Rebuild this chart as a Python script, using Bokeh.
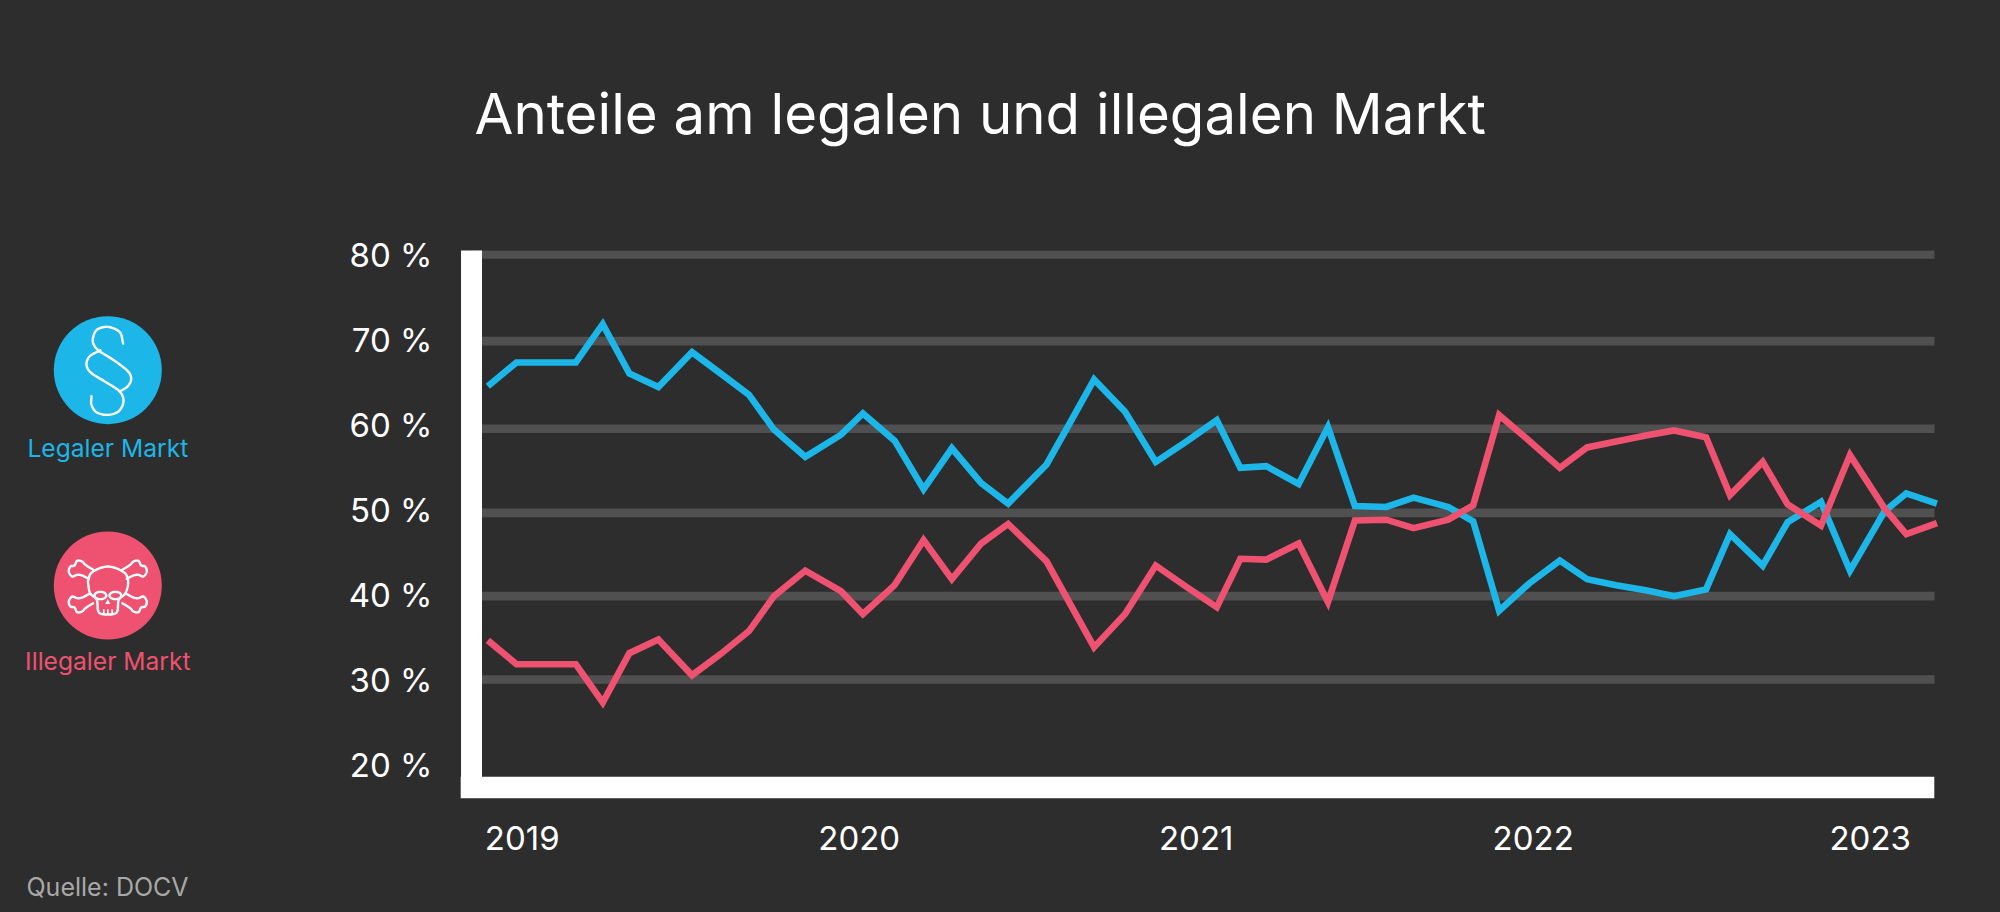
import numpy as np
from bokeh.core.properties import value
from bokeh.embed import file_html
from bokeh.layouts import row
from bokeh.models import FixedTicker, Range1d, Title
from bokeh.plotting import figure
from bokeh.resources import INLINE

TITLE = "Anteile am legalen und illegalen Markt"
SOURCE = "Quelle: DOCV"
LEGAL = "Legaler Markt"
ILLEGAL = "Illegaler Markt"

# Time in decimal years
t_offsets = [-0.002, 0.083, 0.171, 0.259, 0.339, 0.418, 0.504, 0.604, 0.689, 0.773,
             0.847, 0.940, 1.046, 1.111, 1.205, 1.291, 1.375, 1.462, 1.542, 1.656,
             1.727, 1.797, 1.889, 1.980, 2.071, 2.161, 2.231, 2.308, 2.404, 2.491,
             2.571, 2.664, 2.745, 2.848, 2.922, 2.999, 3.088, 3.179, 3.260, 3.346,
             3.434, 3.518, 3.613, 3.684, 3.781, 3.855, 3.954, 4.040, 4.143, 4.207, 4.298]
legal = [64.5, 67.3, 67.3, 67.3, 71.8, 66.0, 64.4, 68.5, 66.0, 63.5,
         59.4, 56.2, 58.8, 61.3, 58.1, 52.4, 57.2, 53.1, 50.7, 55.3,
         60.3, 65.3, 61.5, 55.6, 58.0, 60.5, 54.9, 55.1, 53.0, 59.7,
         50.4, 50.3, 51.4, 50.3, 48.6, 38.1, 41.3, 44.0, 41.8, 41.1,
         40.5, 39.8, 40.6, 47.1, 43.4, 48.5, 50.9, 42.8, 49.8, 51.9, 50.7]
illegal = [34.6, 31.8, 31.8, 31.8, 27.3, 33.1, 34.7, 30.5, 33.0, 35.7,
           39.8, 42.8, 40.4, 37.7, 41.1, 46.4, 41.8, 46.0, 48.3, 43.9,
           38.8, 33.8, 37.7, 43.4, 40.9, 38.5, 44.2, 44.1, 46.0, 39.1,
           48.7, 48.8, 47.8, 48.8, 50.5, 61.1, 58.1, 54.9, 57.3, 58.0,
           58.7, 59.3, 58.5, 51.7, 55.6, 50.6, 48.1, 56.4, 50.1, 47.1, 48.4]
years = [2019, 2020, 2021, 2022, 2023]
percent_ticks = [80, 70, 60, 50, 40, 30, 20]
band_levels = [80, 69.8, 59.5, 49.6, 39.8, 30]

BG = "#2d2d2d"
BLUE = "#1cb6e8"
PINK = "#ee5270"
BAND = "#505050"
FONT = "Inter"

times = [2019 + d for d in t_offsets]

YEAR_PX = 337.0
PCT_PX = 8.5
def tx(px):
    return 2019 + (px - 488) / YEAR_PX
def vy(py):
    return 80 - (py - 254) / PCT_PX

LEFT_W = 260
FIG_H = 912
MAIN_W = 1740
frame_l, frame_r, frame_t, frame_b = 471, 1946, 250, 787

main = figure(width=MAIN_W, height=FIG_H, output_backend="svg", toolbar_location=None,
              x_range=Range1d(tx(frame_l), tx(frame_r)),
              y_range=Range1d(vy(frame_b), vy(frame_t)),
              min_border_left=frame_l - LEFT_W, min_border_right=LEFT_W + MAIN_W - frame_r,
              min_border_top=frame_t, min_border_bottom=FIG_H - frame_b,
              background_fill_color=BG, border_fill_color=BG, outline_line_color=None)

# An empty spacer title keeps the real title clear of the frame
main.add_layout(Title(text=" ", text_font_size="1px", standoff=100), "above")
main.add_layout(Title(text=TITLE, text_color="#ffffff", text_font=FONT, text_font_size="56.4px",
                      text_font_style="normal", align="left", offset=3, standoff=0), "above")

main.grid.visible = False
main.segment(x0=[tx(frame_l)] * len(band_levels), x1=[tx(1934)] * len(band_levels),
             y0=band_levels, y1=band_levels, line_color=BAND, line_width=8.7)

main.line(times, legal, line_color=BLUE, line_width=6.6, line_join="miter")
main.line(times, illegal, line_color=PINK, line_width=6.6, line_join="miter")

ya = main.yaxis[0]
ya.ticker = FixedTicker(ticks=percent_ticks)
ya.major_label_overrides = {v: f"{v} %" for v in percent_ticks}
ya.axis_line_color = "#ffffff"
ya.axis_line_width = 21
ya.major_tick_line_color = None
ya.minor_tick_line_color = None
ya.major_label_standoff = 33
ya.major_label_text_color = "#ffffff"
ya.major_label_text_font = FONT
ya.major_label_text_font_size = "33px"

xa = main.xaxis[0]
year_ticks = [y + 0.1 for y in years]
xa.ticker = FixedTicker(ticks=year_ticks)
xa.major_label_overrides = {t: str(y) for t, y in zip(year_ticks, years)}
xa.bounds = (tx(frame_l), tx(1934 - 10.8))
xa.axis_line_color = "#ffffff"
xa.axis_line_width = 21.6
xa.axis_line_cap = "square"
xa.major_tick_line_color = None
xa.minor_tick_line_color = None
xa.major_label_standoff = 32
xa.major_label_text_color = "#ffffff"
xa.major_label_text_font = FONT
xa.major_label_text_font_size = "33px"

# Left panel: the row lines its frame up with the main frame, so y is in page pixels
side = figure(width=LEFT_W, height=FIG_H, output_backend="svg", toolbar_location=None,
              x_range=Range1d(0, LEFT_W), y_range=Range1d(frame_b, frame_t),
              min_border=0, background_fill_color=BG, border_fill_color=BG, outline_line_color=None)
side.axis.visible = False
side.grid.visible = False

def smooth(pts, n=10):
    """Catmull-Rom curve through way points."""
    p = np.array(pts, float)
    p = np.vstack([2 * p[0] - p[1], p, 2 * p[-1] - p[-2]])
    out = []
    for i in range(1, len(p) - 2):
        for s in np.linspace(0, 1, n, endpoint=False):
            out.append(0.5 * ((2 * p[i]) + (p[i + 1] - p[i - 1]) * s
                              + (2 * p[i - 1] - 5 * p[i] + 4 * p[i + 1] - p[i + 2]) * s ** 2
                              + (3 * p[i] - p[i - 1] - 3 * p[i + 1] + p[i + 2]) * s ** 3))
    out.append(p[-2])
    return np.array(out)

CX, R = 107.3, 54
C1, C2 = 369.7, 585

def draw_icon(pts, cy, closed=False, width=2.4):
    # way points are in a 348-unit icon box centred on (172, 172)
    if closed:
        pts = list(pts) + [pts[0]]
    c = smooth(pts)
    side.line(CX + (c[:, 0] - 172) / 3, cy + (c[:, 1] - 172) / 3,
              line_color="#ffffff", line_width=width, line_cap="round", line_join="round")

side.circle([CX], [C1], radius=R, fill_color=BLUE, line_color=None)
side.circle([CX], [C2], radius=R, fill_color=PINK, line_color=None)

draw_icon([(218, 92), (208, 58), (172, 42), (138, 52), (127, 85), (143, 112), (190, 142),
           (232, 175), (242, 198), (232, 220), (208, 236)], C1)
draw_icon([(150, 112), (118, 130), (108, 155), (122, 180), (170, 210), (208, 236), (219, 265),
           (205, 295), (172, 306), (138, 298), (123, 275), (123, 250)], C1)

# skull
draw_icon([(112, 160), (125, 132), (172, 115), (220, 132), (233, 160), (225, 195), (205, 215),
           (201, 248), (188, 258), (156, 258), (143, 248), (139, 215), (119, 195)], C2, closed=True)
theta = np.linspace(0, 2 * np.pi, 9)[:-1]
for ex in (150, 195):
    draw_icon([(ex + 18 * np.cos(a), 202 + 11 * np.sin(a)) for a in theta], C2, closed=True)
for tooth in (160, 172, 185):
    side.line([CX + (tooth - 172) / 3] * 2, [C2 + (243 - 172) / 3, C2 + (258 - 172) / 3],
              line_color="#ffffff", line_width=1.6)
side.patch([CX, CX - 2.5, CX + 2.5], [C2 + 13.5, C2 + 18.5, C2 + 18.5], fill_color="#ffffff", line_color=None)
# bones
bone = [(128, 125), (105, 110), (95, 100), (80, 98), (72, 112), (60, 115), (55, 130),
        (65, 145), (80, 140), (95, 142), (115, 152)]
draw_icon(bone, C2)
draw_icon([(344 - a, b) for a, b in bone], C2)
draw_icon([(a, 350 - b) for a, b in bone], C2)
draw_icon([(344 - a, 350 - b) for a, b in bone], C2)

side.text([CX], [447], text=[LEGAL], text_color=BLUE, text_font=value(FONT), text_font_size="24.6px",
          text_align="center", text_baseline="middle")
side.text([CX], [660], text=[ILLEGAL], text_color=PINK, text_font=value(FONT), text_font_size="24.6px",
          text_align="center", text_baseline="middle")
side.add_layout(Title(text=" ", text_font_size="1px", standoff=79), "below")
side.add_layout(Title(text=SOURCE, text_color="#a8a8a8", text_font=FONT, text_font_size="25px",
                      text_font_style="normal", align="left", offset=26, standoff=0), "below")

layout = row(side, main, spacing=0)

html = file_html(layout, INLINE)
html = html.replace("<head>", f"<head><style>html,body{{background:{BG};overflow:hidden;}}</style>", 1)
open("out.html", "w").write(html)
